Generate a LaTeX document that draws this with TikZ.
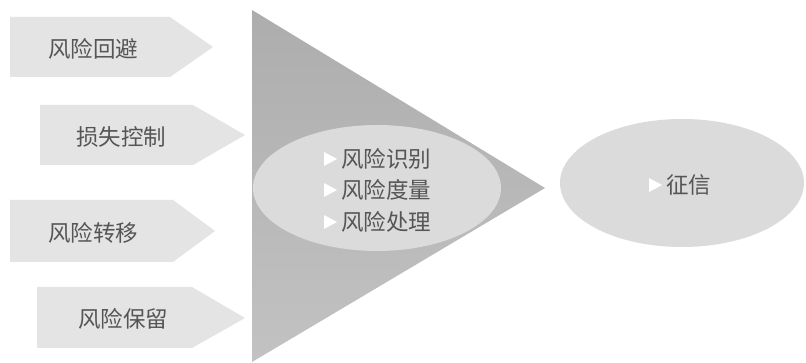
\documentclass[tikz,border=0pt]{standalone}
\usepackage{fontspec}
\setmainfont{Noto Sans CJK SC}
\begin{document}
\begin{tikzpicture}[x=1pt,y=-1pt,
  arrowfill/.style={fill=arrowgray,draw=none},
  lbl/.style={font=\fontsize{22.5}{26}\selectfont,text=textgray,inner sep=0pt},
  bullet/.style={fill=white,draw=none}]
\definecolor{arrowgray}{HTML}{E4E4E4}
\definecolor{trigray}{HTML}{ADADAD}
\definecolor{trigraylight}{HTML}{C2C2C2}
\definecolor{ellgray}{HTML}{DBDBDB}
\definecolor{textgray}{HTML}{555555}
\useasboundingbox (0,0) rectangle (806,363);
\fill[white] (0,0) rectangle (806,363);
% left arrows
\path[arrowfill] (10,17) -- (170,17) -- (213,47) -- (170,77) -- (10,77) -- cycle;
\path[arrowfill] (40,105) -- (193,105) -- (245,135) -- (193,165) -- (40,165) -- cycle;
\path[arrowfill] (10,200) -- (173,200) -- (215,231) -- (173,262) -- (10,262) -- cycle;
\path[arrowfill] (37,287) -- (192,287) -- (245,318) -- (192,348) -- (37,348) -- cycle;
\node[lbl] (a1) at (93,49) {风险回避};
\node[lbl] (a2) at (121,137) {损失控制};
\node[lbl] (a3) at (93,233) {风险转移};
\node[lbl] (a4) at (123,319) {风险保留};
% big triangle
\shade[top color=trigray,bottom color=trigraylight,draw=none] (252,10) -- (545,188) -- (252,362) -- cycle;
% inner ellipse
\fill[ellgray] (377,188) ellipse [x radius=124, y radius=63];
\node[lbl,anchor=west] (r1) at (341,159) {风险识别};
\node[lbl,anchor=west] (r2) at (341,190) {风险度量};
\node[lbl,anchor=west] (r3) at (341,222) {风险处理};
\foreach \y in {159,190,222}{
  \path[bullet] (324,\y-7) -- (337,\y) -- (324,\y+7) -- cycle;
}
% right ellipse
\fill[ellgray] (682,183) ellipse [x radius=122, y radius=64];
\node[lbl,anchor=west] (z) at (666,185) {征信};
\path[bullet] (649,178) -- (662,185) -- (649,192) -- cycle;
\end{tikzpicture}
\end{document}
